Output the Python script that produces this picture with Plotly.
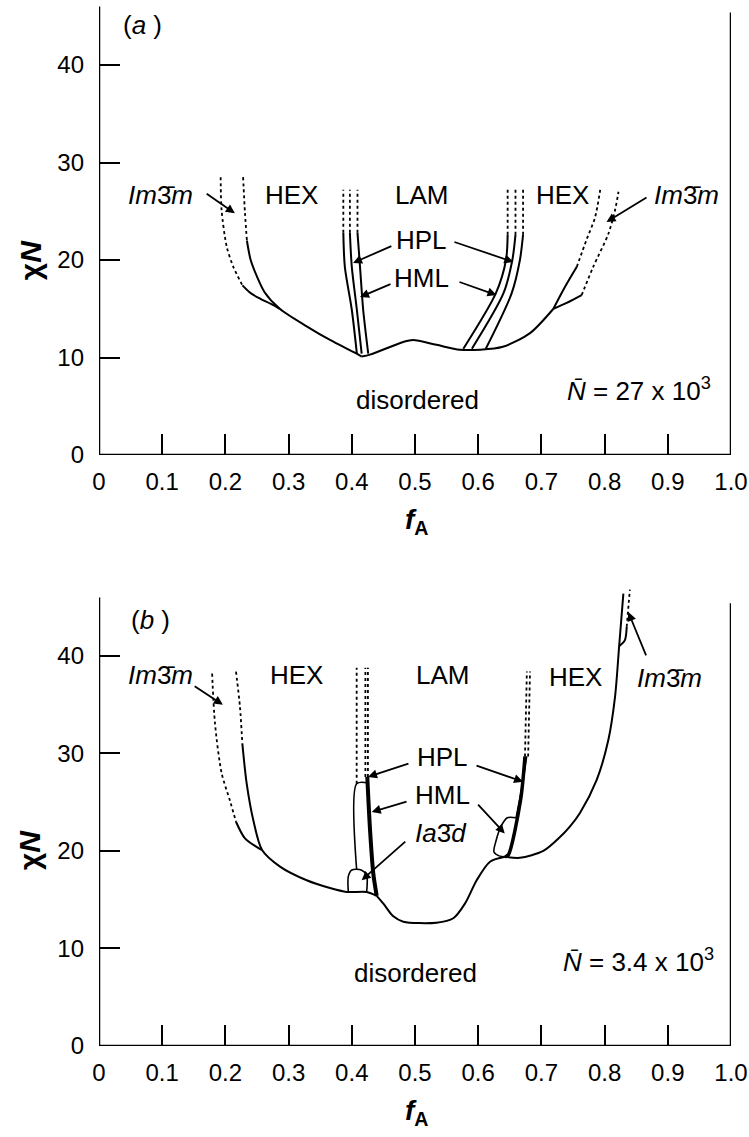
import plotly.graph_objects as go
from plotly.subplots import make_subplots

# ---- panel (a): N = 27 x 10^3 ----
a_bcc_l_dot_x = [0.1925, 0.194, 0.202, 0.2125, 0.227]
a_bcc_l_dot_y = [28.5, 25.1, 21.4, 19.3, 17.4]
a_bcc_l_x = [0.227, 0.240, 0.256, 0.272, 0.286]
a_bcc_l_y = [17.4, 16.6, 16.0, 15.5, 15.0]
a_hex_l_dot_x = [0.228, 0.231, 0.234]
a_hex_l_dot_y = [28.5, 24.8, 22.0]
a_hex_l_x = [0.234, 0.240, 0.250, 0.262, 0.286, 0.3286, 0.3655, 0.4077, 0.4156]
a_hex_l_y = [22.0, 20.0, 18.3, 16.7, 15.0, 13.2, 11.8, 10.4, 10.1]
a_odt_x = [0.4156, 0.4288, 0.4815, 0.497, 0.534, 0.571, 0.603, 0.639, 0.682, 0.719]
a_odt_y = [10.1, 10.3, 11.6, 11.8, 11.3, 10.8, 10.8, 11.1, 12.5, 15.0]
a_hex_r_x = [0.719, 0.737, 0.756]
a_hex_r_y = [15.0, 17.2, 19.3]
a_hex_r_dot_x = [0.756, 0.7715, 0.785, 0.793]
a_hex_r_dot_y = [19.3, 22.1, 24.4, 27.2]
a_bcc_r_x = [0.719, 0.740, 0.7637]
a_bcc_r_y = [15.0, 15.6, 16.4]
a_bcc_r_dot_x = [0.7637, 0.782, 0.806, 0.8165, 0.822]
a_bcc_r_dot_y = [16.4, 19.3, 22.7, 25.1, 27.0]
# three lamellar-side boundaries on each side (x at the listed y)
a_lam_l_y = [22.8, 19.3, 14.9, 10.4]
a_lam_l1 = [0.3866, 0.389, 0.400, 0.408]
a_lam_l2 = [0.397, 0.400, 0.408, 0.4156]
a_lam_l3 = [0.409, 0.413, 0.418, 0.426]
a_lam_r_y = [10.9, 16.6, 20.0, 22.6]
a_lam_r1 = [0.5765, 0.628, 0.644, 0.6466]
a_lam_r2 = [0.590, 0.640, 0.654, 0.659]
a_lam_r3 = [0.612, 0.653, 0.666, 0.671]
a_dot_top = 27.2

# ---- panel (b): N = 3.4 x 10^3 ----
b_bcc_l_dot_x = [0.179, 0.1835, 0.194, 0.207, 0.2168]
b_bcc_l_dot_y = [38.2, 33.1, 28.0, 25.2, 23.0]
b_bcc_l_x = [0.2168, 0.231, 0.2574]
b_bcc_l_y = [23.0, 21.3, 20.1]
b_hex_l_dot_x = [0.2168, 0.223, 0.2268]
b_hex_l_dot_y = [38.4, 34.8, 31.0]
b_hex_l_x = [0.2268, 0.2337, 0.244, 0.258, 0.2864, 0.3286, 0.3655, 0.392, 0.4235, 0.4394]
b_hex_l_y = [31.0, 26.9, 23.2, 20.1, 18.4, 17.0, 16.2, 15.8, 15.8, 15.4]
b_gyr_l_x = [0.3945, 0.3945, 0.400, 0.415, 0.4235, 0.4235]
b_gyr_l_y = [15.8, 17.4, 18.05, 18.05, 17.5, 15.8]
b_hpl_l_x = [0.4077, 0.4077, 0.4245]
b_hpl_l_y = [18.05, 26.9, 27.0]
b_hml_l_x = [0.4245, 0.4290, 0.4340, 0.4394]
b_hml_l_y = [27.6, 22.0, 17.7, 15.4]
b_odt_x = [0.4394, 0.45, 0.4657, 0.4815, 0.534, 0.5606, 0.579, 0.5976, 0.6187, 0.6424]
b_odt_y = [15.4, 14.6, 13.3, 12.75, 12.65, 13.1, 14.6, 17.0, 18.9, 19.4]
b_gyr_r_x = [0.6424, 0.633, 0.625, 0.628, 0.636, 0.646, 0.660]
b_gyr_r_y = [19.4, 19.5, 19.9, 21.0, 22.5, 23.4, 23.4]
b_hml_r_x = [0.6424, 0.6476, 0.667, 0.674]
b_hml_r_y = [19.4, 19.6, 25.2, 29.7]
b_hpl_r_x = [0.660, 0.6705, 0.6767]
b_hpl_r_y = [23.4, 27.0, 29.7]
b_hex_r_x = [0.6424, 0.666, 0.703, 0.729, 0.745, 0.761, 0.7875, 0.806, 0.8165, 0.823, 0.8297]
b_hex_r_y = [19.4, 19.3, 20.0, 21.4, 22.5, 23.9, 27.3, 31.4, 35.8, 41.0, 46.4]
b_bcc_r_x = [0.823, 0.832, 0.835]
b_bcc_r_y = [41.0, 41.6, 43.0]
b_bcc_r_dot_x = [0.835, 0.840]
b_bcc_r_dot_y = [43.0, 46.8]
b_dot_l_x = [0.4077, 0.4215, 0.4255]
b_dot_l_bot = [26.9, 27.6, 27.6]
b_dot_r_x = [0.6740, 0.6790]
b_dot_r_bot = [29.7, 29.7]
b_dot_top = 38.8

xtick_vals = [0, 0.1, 0.2, 0.3, 0.4, 0.5, 0.6, 0.7, 0.8, 0.9, 1.0]
xtick_text = ["0", "0.1", "0.2", "0.3", "0.4", "0.5", "0.6", "0.7", "0.8", "0.9", "1.0"]
ytick_vals = [0, 10, 20, 30, 40]

FONT = "Liberation Sans, Arial, sans-serif"

fig = make_subplots(rows=2, cols=1)


def line(x, y, row, dash="solid", width=2.0):
    fig.add_trace(go.Scatter(x=x, y=y, mode="lines", hoverinfo="skip", showlegend=False,
                             line=dict(color="black", width=width, dash=dash, shape="spline", smoothing=0.8)),
                  row=row, col=1)


# panel a
line(a_bcc_l_dot_x, a_bcc_l_dot_y, 1, "dot", 1.8)
line(a_bcc_l_x, a_bcc_l_y, 1)
line(a_hex_l_dot_x, a_hex_l_dot_y, 1, "dot", 1.8)
line(a_hex_l_x, a_hex_l_y, 1)
line(a_odt_x, a_odt_y, 1)
line(a_hex_r_x, a_hex_r_y, 1)
line(a_hex_r_dot_x, a_hex_r_dot_y, 1, "dot", 1.8)
line(a_bcc_r_x, a_bcc_r_y, 1)
line(a_bcc_r_dot_x, a_bcc_r_dot_y, 1, "dot", 1.8)
for xs in (a_lam_l1, a_lam_l2, a_lam_l3):
    line(xs, a_lam_l_y, 1)
    line([xs[0], xs[0]], [a_lam_l_y[0], a_dot_top], 1, "dot", 1.8)
for xs in (a_lam_r1, a_lam_r2, a_lam_r3):
    line(xs, a_lam_r_y, 1)
    line([xs[-1], xs[-1]], [a_lam_r_y[-1], a_dot_top], 1, "dot", 1.8)

# panel b
line(b_bcc_l_dot_x, b_bcc_l_dot_y, 2, "dot", 1.8)
line(b_bcc_l_x, b_bcc_l_y, 2)
line(b_hex_l_dot_x, b_hex_l_dot_y, 2, "dot", 1.8)
line(b_hex_l_x, b_hex_l_y, 2)
line(b_gyr_l_x, b_gyr_l_y, 2, width=1.6)
line(b_hpl_l_x, b_hpl_l_y, 2, width=1.6)
line(b_hml_l_x, b_hml_l_y, 2, width=4)
line(b_odt_x, b_odt_y, 2)
line(b_gyr_r_x, b_gyr_r_y, 2, width=1.6)
line(b_hml_r_x, b_hml_r_y, 2, width=3.5)
line(b_hpl_r_x, b_hpl_r_y, 2, width=1.6)
line(b_hex_r_x, b_hex_r_y, 2)
line(b_bcc_r_x, b_bcc_r_y, 2)
line(b_bcc_r_dot_x, b_bcc_r_dot_y, 2, "dot", 1.8)
for xv, yb in zip(b_dot_l_x, b_dot_l_bot):
    line([xv, xv], [yb, b_dot_top], 2, "dot", 1.8)
for xv, yb in zip(b_dot_r_x, b_dot_r_bot):
    line([xv, xv + 0.003], [yb, b_dot_top - 0.4], 2, "dot", 1.8)

# frame lines (left axis, right border, baseline)
for xr, yr, ytop in (("x", "y", 46.0), ("x2", "y2", 46.0)):
    fig.add_shape(type="line", xref=xr, yref=yr, x0=0, x1=0, y0=0, y1=ytop, line=dict(color="black", width=2.5))
    fig.add_shape(type="line", xref=xr, yref=yr, x0=1, x1=1, y0=0, y1=ytop - 0.6, line=dict(color="black", width=2.5))
    fig.add_shape(type="line", xref=xr, yref=yr, x0=0, x1=1, y0=0, y1=0, line=dict(color="black", width=2.5))

BCC = "<i>Im</i>3\u0304<i>m</i>"
GYR = "<i>Ia</i>3\u0304<i>d</i>"
labels = [
    (1, "(<i>a</i> )", 0.0696, 44.1), (1, BCC, 0.098, 26.7), (1, "HEX", 0.305, 26.7), (1, "LAM", 0.511, 26.7),
    (1, "HPL", 0.5095, 22.05), (1, "HML", 0.5095, 18.15), (1, "HEX", 0.734, 26.7), (1, BCC, 0.930, 26.7),
    (1, "disordered", 0.5047, 5.6), (1, "<i>N\u0304</i> = 27 x 10<sup>3</sup>", 0.854, 6.7),
    (2, "(<i>b</i> )", 0.0807, 43.7), (2, BCC, 0.098, 38.05), (2, "HEX", 0.312, 38.05), (2, "LAM", 0.544, 38.05),
    (2, "HPL", 0.544, 29.6), (2, "HML", 0.544, 25.7), (2, GYR, 0.541, 21.8), (2, "HEX", 0.7547, 37.8),
    (2, BCC, 0.902, 37.7), (2, "disordered", 0.50, 7.5), (2, "<i>N\u0304</i> = 3.4 x 10<sup>3</sup>", 0.854, 8.8),
]
for row, txt, xv, yv in labels:
    sfx = "" if row == 1 else "2"
    fig.add_annotation(x=xv, y=yv, xref="x" + sfx, yref="y" + sfx, text=txt, showarrow=False,
                       font=dict(family=FONT, size=26, color="black"))

# pointer lines: (row, tail x, tail y, head x, head y)
pointers = [
    (1, 0.168, 26.9, 0.215, 24.8), (1, 0.465, 21.5, 0.402, 19.7), (1, 0.4636, 17.6, 0.413, 16.2),
    (1, 0.560, 21.9, 0.6556, 19.8), (1, 0.568, 17.8, 0.629, 16.4), (1, 0.8687, 26.5, 0.803, 23.9),
    (2, 0.149, 37.0, 0.196, 35.0), (2, 0.492, 29.0, 0.4256, 27.6), (2, 0.489, 25.1, 0.4315, 24.0),
    (2, 0.487, 21.1, 0.4156, 17.0), (2, 0.595, 28.8, 0.671, 27.1), (2, 0.5976, 24.9, 0.642, 21.8),
    (2, 0.8666, 39.9, 0.8375, 44.5),
]
for row, tx, ty, hx, hy in pointers:
    sfx = "" if row == 1 else "2"
    fig.add_annotation(x=hx, y=hy, ax=tx, ay=ty, xref="x" + sfx, yref="y" + sfx, axref="x" + sfx, ayref="y" + sfx,
                       text="", showarrow=True, arrowhead=2, arrowsize=1, arrowwidth=1.8, arrowcolor="black", standoff=0)

# axis titles
for yp in (0.7514, 0.1874):
    fig.add_annotation(x=-0.109, y=yp, xref="paper", yref="paper", text="<b>\u03c7<i>N</i></b>", textangle=-90,
                       xanchor="center", yanchor="middle", showarrow=False,
                       font=dict(family=FONT, size=30, color="black"))
for yp in (0.501, -0.064):
    fig.add_annotation(x=0.5016, y=yp, xref="paper", yref="paper", text="<b><i>f</i><sub>A</sub></b>",
                       xanchor="center", yanchor="middle", showarrow=False,
                       font=dict(family=FONT, size=28, color="black"))

ax_common = dict(showgrid=False, zeroline=False, showline=False, ticks="inside", tickcolor="black",
                 tickwidth=2, tickfont=dict(family=FONT, size=24, color="black"))
fig.update_xaxes(range=[0, 1], tickvals=xtick_vals, ticktext=xtick_text, ticklen=21, ticklabelstandoff=10, **ax_common)
fig.update_yaxes(tickvals=ytick_vals, ticklen=21, ticklabelstandoff=14, **ax_common)
fig.update_layout(
    width=749, height=1137, margin=dict(l=99, r=18, t=0, b=91),
    plot_bgcolor="white", paper_bgcolor="white", showlegend=False,
    xaxis=dict(domain=[0, 1]), xaxis2=dict(domain=[0, 1]),
    yaxis=dict(domain=[0.5650, 1.0], range=[0, 46.67]),
    yaxis2=dict(domain=[0.0, 0.440], range=[0, 47.2]),
)

# drop the default page margin so the figure fills the window exactly
fig.write_html("out.html", config={"displayModeBar": False},
               post_script="document.body.style.margin='0';document.body.style.overflow='hidden';")
